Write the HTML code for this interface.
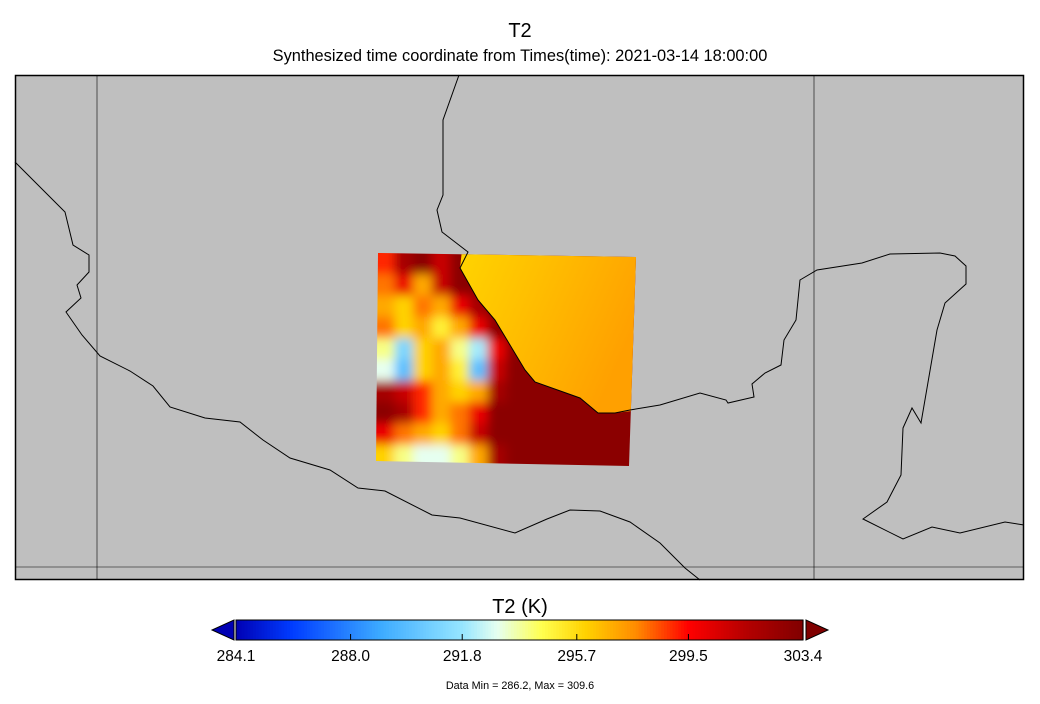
<!DOCTYPE html>
<html><head><meta charset="utf-8"><style>
html,body{margin:0;padding:0;background:#fff;}
svg{display:block;font-family:"Liberation Sans",sans-serif;}
</style></head><body>
<svg width="1040" height="704" viewBox="0 0 1040 704">
<defs>
<clipPath id="boxclip"><polygon points="378,253 636,257 629,466 376,461"/></clipPath>
<filter id="blur" x="-10%" y="-10%" width="120%" height="120%"><feGaussianBlur stdDeviation="5"/></filter>
<linearGradient id="oceang" x1="0" y1="0" x2="1" y2="0.4">
<stop offset="0" stop-color="#ffd400"/><stop offset="0.4" stop-color="#ffc000"/><stop offset="1" stop-color="#ffa000"/></linearGradient>
</defs>
<text x="520" y="37" text-anchor="middle" font-size="20">T2</text>
<text x="520" y="61" text-anchor="middle" font-size="16.4">Synthesized time coordinate from Times(time): 2021-03-14 18:00:00</text>
<rect x="15" y="75" width="1009" height="505" fill="#bfbfbf"/>
<g id="heat" clip-path="url(#boxclip)"><g id="cells" filter="url(#blur)"></g>
<polygon id="ocean" points="462,250 460,268 478,300 495,320 525,370 535,382 580,398 598,413 615,413 640,410 640,250" fill="url(#oceang)"/>
</g>
<g fill="none" stroke="#000" stroke-width="1">
<line x1="97" y1="75" x2="97" y2="580" stroke-width="0.6"/>
<line x1="814" y1="75" x2="814" y2="580" stroke-width="0.6"/>
<line x1="15" y1="567" x2="1024" y2="567" stroke-width="0.6"/>
<polyline points="15,162 65,212 73,245 89,255 89,272 77,285 81,298 66,312 82,335 100,356 130,371 153,386 170,407 205,418 240,422 263,440 290,458 330,470 358,488 385,491 432,515 460,518 515,533 547,519 570,510 600,511 630,522 660,543 685,568 700,580"/>
<polyline points="459,75 443,120 443,195 437,210 442,232 468,252 460,268 478,300 495,320 525,370 535,382 580,398 598,413 615,413 630,410 660,405 700,393 726,400 728,403 754,397 752,384 765,373 781,365 784,340 796,320 800,280 817,270 862,263 890,254 940,253 955,256 966,266 966,284 945,303 937,330 921,423 912,408 903,428 901,475 887,502 863,519 903,539 932,527 960,533 1005,522 1024,525"/>
</g>
<rect x="15.5" y="75.5" width="1008" height="504" fill="none" stroke="#000" stroke-width="1.5"/>
<text x="520" y="613" text-anchor="middle" font-size="20">T2 (K)</text>
<g id="cbg"></g>
<polygon points="234,620 234,640 212,630" fill="#0000b4" stroke="#000"/>
<polygon points="806,620 806,640 828,630" fill="#800000" stroke="#000"/>
<g id="ticks" font-size="15.5" text-anchor="middle"></g>
<text x="520" y="689" text-anchor="middle" font-size="10.8">Data Min = 286.2, Max = 309.6</text>
</svg>
<script>
const tickLabels=["284.1","288.0","291.8","295.7","299.5","303.4"];
const vmin=284.1, vmax=303.4;
const landRows=[
[299,302,303,301,303,303,303,303,303,303,303,303,303,303],
[298,300,297,301,303,303,303,303,303,303,303,303,303,303],
[297,296,298,297,300,302,303,303,303,303,303,303,303,303],
[298,296,297,295,297,300,303,303,303,303,303,303,303,303],
[294,291,296,297,294,292,300,303,303,303,303,303,303,303],
[293,290,296,297,295,290,301,303,303,303,303,303,303,303],
[302,301,299,297,296,297,302,303,303,303,303,303,303,303],
[303,302,299,297,298,300,303,303,303,303,303,303,303,303],
[300,298,297,296,298,301,303,303,303,303,303,303,303,303],
[296,294,293,293,294,297,302,303,303,303,303,303,303,303]];
const stops=[[284.1,[0,0,180]],[286,[0,60,255]],[289,[60,170,255]],[291.8,[150,230,255]],[293,[230,255,240]],[294.5,[255,255,80]],[296,[255,210,0]],[297.7,[255,140,0]],[299.5,[255,0,0]],[301.5,[180,0,0]],[303.4,[128,0,0]]];
function color(v){v=Math.max(vmin,Math.min(vmax,v));for(let i=1;i<stops.length;i++){if(v<=stops[i][0]){const a=stops[i-1],b=stops[i],t=(v-a[0])/(b[0]-a[0]);const c=a[1].map((x,k)=>Math.round(x+(b[1][k]-x)*t));return `rgb(${c})`;}}return 'rgb(128,0,0)';}
const NS='http://www.w3.org/2000/svg';
const bx0=376,bx1=636,by0=253,by1=466;
const cw=(bx1-bx0)/landRows[0].length, ch=(by1-by0)/landRows.length;
const cells=document.getElementById('cells');
landRows.forEach((row,r)=>row.forEach((v,c)=>{const e=document.createElementNS(NS,'rect');
e.setAttribute('x',bx0+c*cw-(c==0?20:0));e.setAttribute('y',by0+r*ch-(r==0?20:0));
e.setAttribute('width',cw+(c==0?20:0)+(c==row.length-1?20:0)+0.5);e.setAttribute('height',ch+(r==0?20:0)+(r==landRows.length-1?20:0)+0.5);
e.setAttribute('fill',color(v));


cells.appendChild(e);}));
const cx0=236,cx1=803;
const xs=v=>cx0+(v-vmin)/(vmax-vmin)*(cx1-cx0);
const cbg=document.getElementById('cbg');
for(let i=0;i<200;i++){const v0=vmin+(vmax-vmin)*i/200;const e=document.createElementNS(NS,'rect');
e.setAttribute('x',xs(v0));e.setAttribute('y',620);e.setAttribute('width',(cx1-cx0)/200+0.6);e.setAttribute('height',20);
e.setAttribute('fill',color(v0+(vmax-vmin)/400));


cbg.appendChild(e);}
const fr=document.createElementNS(NS,'rect');fr.setAttribute('x',cx0);fr.setAttribute('y',620);fr.setAttribute('width',cx1-cx0);fr.setAttribute('height',20);fr.setAttribute('fill','none');fr.setAttribute('stroke','#000');


cbg.appendChild(fr);
const tg=document.getElementById('ticks');
tickLabels.forEach(t=>{const x=xs(parseFloat(t));
const l=document.createElementNS(NS,'line');l.setAttribute('x1',x);l.setAttribute('x2',x);l.setAttribute('y1',634);l.setAttribute('y2',640);l.setAttribute('stroke','#000');


tg.appendChild(l);
const e=document.createElementNS(NS,'text');e.setAttribute('x',x);e.setAttribute('y',661);e.textContent=t;


tg.appendChild(e);});
</script>
</body></html>
